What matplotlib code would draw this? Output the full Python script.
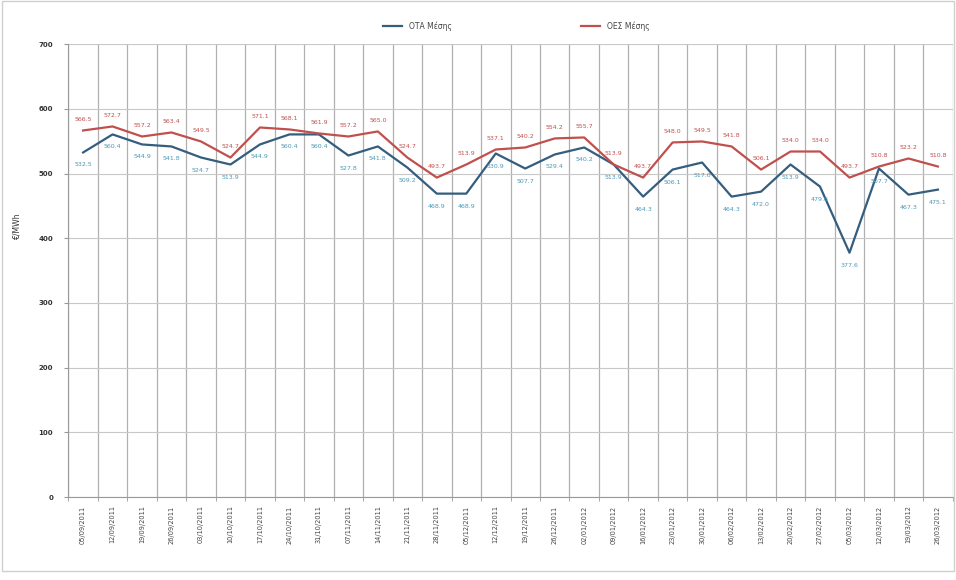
import matplotlib
matplotlib.use("Agg")
import matplotlib.pyplot as plt
from matplotlib.patches import Rectangle

plt.rcParams['font.family'] = ['DejaVu Sans']

dates = ["05/09/2011", "12/09/2011", "19/09/2011", "26/09/2011", "03/10/2011",
         "10/10/2011", "17/10/2011", "24/10/2011", "31/10/2011", "07/11/2011",
         "14/11/2011", "21/11/2011", "28/11/2011", "05/12/2011", "12/12/2011",
         "19/12/2011", "26/12/2011", "02/01/2012", "09/01/2012", "16/01/2012",
         "23/01/2012", "30/01/2012", "06/02/2012", "13/02/2012", "20/02/2012",
         "27/02/2012", "05/03/2012", "12/03/2012", "19/03/2012", "26/03/2012"]

ota = [532.5, 560.4, 544.9, 541.8, 524.7, 513.9, 544.9, 560.4, 560.4, 527.8,
       541.8, 509.2, 468.9, 468.9, 530.9, 507.7, 529.4, 540.2, 513.9, 464.3,
       506.1, 517.0, 464.3, 472.0, 513.9, 479.8, 377.6, 507.7, 467.3, 475.1]

oes = [566.5, 572.7, 557.2, 563.4, 549.5, 524.7, 571.1, 568.1, 561.9, 557.2,
       565.0, 524.7, 493.7, 513.9, 537.1, 540.2, 554.2, 555.7, 513.9, 493.7,
       548.0, 549.5, 541.8, 506.1, 534.0, 534.0, 493.7, 510.8, 523.2, 510.8]

series_names = ["ΟΤΑ Μέσης", "ΟΕΣ Μέσης"]
y_ticks = [0, 100, 200, 300, 400, 500, 600, 700]

fig = plt.figure(figsize=(9.56, 5.8), dpi=100)
ax = fig.add_axes([0.0715, 0.143, 0.925, 0.781])

x = list(range(len(dates)))
blue = '#345d7e'
red = '#c0504d'
ax.plot(x, ota, color=blue, lw=1.6, label=series_names[0], zorder=3)
ax.plot(x, oes, color=red, lw=1.6, label=series_names[1], zorder=3)

for xi, v in zip(x, ota):
    ax.annotate(f"{v:.1f}", (xi, v), xytext=(0, -9), textcoords='offset points',
                ha='center', va='center', fontsize=4.5, color='#4a98b5', zorder=4)
for xi, v in zip(x, oes):
    ax.annotate(f"{v:.1f}", (xi, v), xytext=(0, 8), textcoords='offset points',
                ha='center', va='center', fontsize=4.5, color='#c0504d', zorder=4)

ax.set_xlim(-0.5, len(dates) - 0.5)
ax.set_ylim(0, 700)
ax.set_yticks(y_ticks)
ax.set_yticklabels([str(t) for t in y_ticks], fontsize=5, fontweight='bold', color='#333333')
ax.set_xticks(x)
ax.set_xticklabels(dates, rotation=90, fontsize=4.8, color='#444444')
ax.set_xticks([i + 0.5 for i in range(-1, len(dates))], minor=True)
ax.tick_params(axis='x', which='major', length=0, pad=6)
ax.tick_params(axis='x', which='minor', length=3, color='#999999')
ax.tick_params(axis='y', length=3, color='#999999', pad=8)

ax.grid(axis='y', color='#c8c8c8', lw=0.8)
ax.grid(axis='x', which='minor', color='#b0b0b0', lw=0.9)
ax.set_axisbelow(True)
for s in ['top', 'right']:
    ax.spines[s].set_visible(False)
ax.spines['left'].set_color('#999999')
ax.spines['bottom'].set_color('#999999')

ax.set_ylabel("€/MWh", fontsize=5.5, color='#333333', labelpad=12)
ax.yaxis.set_label_coords(-0.053, 0.6)

leg = fig.legend(loc='upper center', bbox_to_anchor=(0.54, 0.975), ncol=2,
                 frameon=False, fontsize=5.5, columnspacing=17, handlelength=2.5)
for t in leg.get_texts():
    t.set_color('#444444')

fig.patches.append(Rectangle((0.002, 0.015), 0.996, 0.983, transform=fig.transFigure,
                             fill=False, edgecolor='#d0d0d0', lw=1))

fig.savefig("out.png", dpi=100)
